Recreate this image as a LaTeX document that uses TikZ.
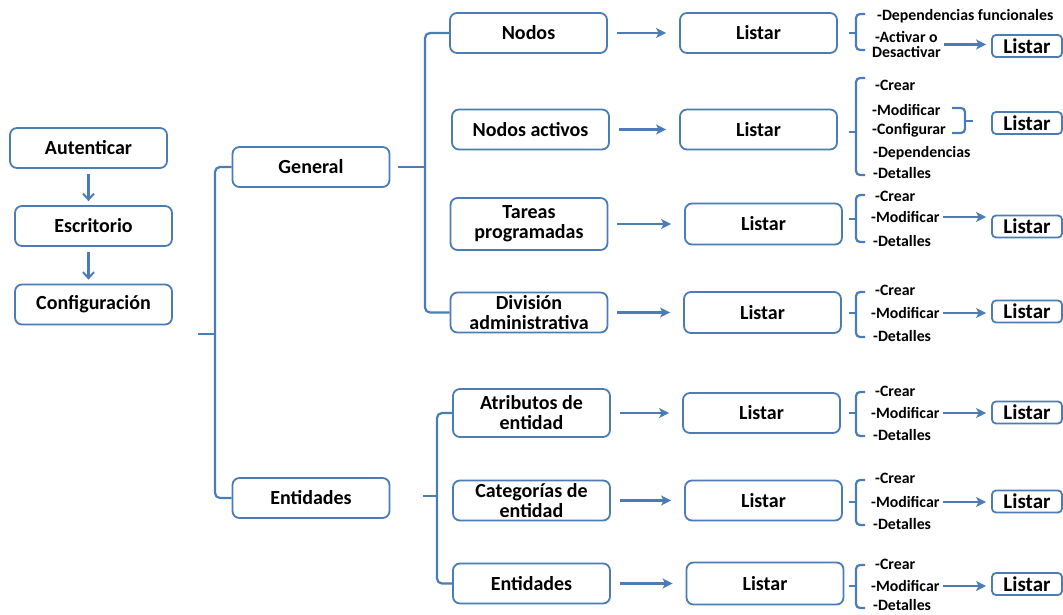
\documentclass[tikz,border=0pt]{standalone}
\usepackage{fontspec}
\setmainfont{Carlito}
\usetikzlibrary{arrows.meta}
\definecolor{linec}{RGB}{76,124,182}

\tikzset{
  box/.style={draw=linec, line width=1.8pt, rounded corners=7pt,
    minimum width=157pt, minimum height=40pt, inner sep=0pt, align=center,
    font=\bfseries\fontsize{20}{20}\selectfont},
  minibox/.style={draw=linec, line width=1.8pt, rounded corners=4pt,
    minimum width=70pt, minimum height=22pt, inner sep=0pt,
    font=\bfseries\fontsize{21}{21}\selectfont},
  item/.style={anchor=west, inner sep=0pt, font=\bfseries\fontsize{15.8}{15}\selectfont},
  flow/.style={draw=linec, line width=2.2pt, shorten <=9pt, shorten >=13pt,
    -{Stealth[length=10pt,width=10pt,inset=2.5pt]}},
  downflow/.style={draw=linec, line width=2.2pt, shorten <=5pt, shorten >=4pt,
    -{Straight Barb[length=6pt,width=11pt,line width=2pt]}},
  smallflow/.style={draw=linec, line width=2.2pt, shorten <=3pt, shorten >=5pt,
    -{Stealth[length=10pt,width=10pt,inset=2.5pt]}},
  brk/.style={draw=linec, line width=2.2pt, rounded corners=5pt},
}

% left-hand curly bracket in front of a list of actions: top, bottom, middle
\newcommand{\actionbrace}[3]{%
  \draw[brk, rounded corners=4pt] (865,#1) -- (856,#1) -- (856,#2) -- (865,#2);
  \draw[brk] (849,#3) -- (856,#3);}

\begin{document}
\begin{tikzpicture}[x=1pt, y=-1pt]
\fill[white] (0,0) rectangle (1063,615);
\useasboundingbox (0,0) rectangle (1063,615);

% main path
\node[box] (aut)  at (88.5,148)  {Autenticar};
\node[box] (esc)  at (93.5,226)  {Escritorio};
\node[box] (conf) at (93.5,304.5) {Configuración};
\draw[downflow] (aut.south) -- (aut.south |- esc.north);
\draw[downflow] (aut.south |- esc.south) -- (aut.south |- conf.north);

% first level
\node[box] (gen) at (311,167) {General};
\node[box] (ent) at (311,498) {Entidades};
\coordinate (bigstem) at (215,334);
\coordinate (bignub)  at (198,334);
\draw[brk] (gen.west) -| (bigstem) |- (ent.west);
\draw[brk] (bignub) -- (bigstem);

% General branch
\node[box] (nod)  at (528.5,33)  {Nodos};
\node[box] (nact) at (530.5,129.5) {Nodos activos};
\node[box, minimum height=52pt] (tar) at (529,224) {Tareas\\programadas};
\node[box] (div)  at (529,312.5) {División\\administrativa};
\coordinate (genstem) at (425,167);
\coordinate (gennub)  at (398,167);
\draw[brk] (nod.west) -| (genstem) |- (div.west);
\draw[brk] (gennub) -- (genstem);

\node[box] (l1) at (758.5,33)    {Listar};
\node[box] (l2) at (758.5,129.5) {Listar};
\node[box, minimum height=41pt] (l3) at (763.5,224) {Listar};
\node[box, minimum height=41pt] (l4) at (762.5,312.5) {Listar};
\draw[flow] (nod)  -- (l1);
\draw[flow] (nact) -- (l2);
\draw[flow] (tar)  -- (l3);
\draw[flow] (div)  -- (l4);

% Entidades branch
\node[box, minimum height=48pt] (atr) at (531.5,413) {Atributos de\\entidad};
\node[box] (cat)  at (531.5,500.5) {Categorías de\\entidad};
\node[box] (ent2) at (531.5,583.5) {Entidades};
\coordinate (entstem) at (437,496);
\coordinate (entnub)  at (423,496);
\draw[brk] (atr.west) -| (entstem) |- (ent2.west);
\draw[brk] (entnub) -- (entstem);

\node[box] (l5) at (761.5,413)   {Listar};
\node[box] (l6) at (763.5,500.5) {Listar};
\node[box, minimum height=42pt] (l7) at (765,583.5) {Listar};
\draw[flow] (atr)  -- (l5);
\draw[flow] (cat)  -- (l6);
\draw[flow] (ent2) -- (l7);

% actions for Nodos
\actionbrace{14}{50}{33}
\node[item] (a1) at (877,16) {-Dependencias funcionales};
\node[item, align=center] (a2) at (872,44.5) {-Activar o\\[0pt]Desactivar};
\node[minibox] (m1) at (1027,46) {Listar};
\draw[smallflow] (a2.east) -- (a2.east -| m1.west);

% actions for Nodos activos
\actionbrace{78}{175}{132}
\node[item] (b1) at (875,85)  {-Crear};
\node[item] (b2) at (872,110) {-Modificar};
\node[item] (b3) at (872,130) {-Configurar};
\node[item] (b4) at (873,153) {-Dependencias};
\node[item] (b5) at (873,173) {-Detalles};
\draw[brk, rounded corners=4pt] (952,108) -- (965,108) -- (965,133) -- (952,133);
\coordinate (bstem) at (965,121);
\node[minibox] (m2) at (1027,123) {Listar};
\draw[brk] (bstem) -- (bstem -| 973,0);

% actions for Tareas programadas
\actionbrace{195}{242}{219}
\node[item] (c1) at (875,196) {-Crear};
\node[item] (c2) at (871,217) {-Modificar};
\node[item] (c3) at (873,241) {-Detalles};
\node[minibox] (m3) at (1027,226.5) {Listar};
\draw[smallflow] (c2.east) -- (c2.east -| m3.west);

% actions for División administrativa
\actionbrace{292}{337}{313}
\node[item] (d1) at (875,290) {-Crear};
\node[item] (d2) at (871,313) {-Modificar};
\node[item] (d3) at (873,336) {-Detalles};
\node[minibox] (m4) at (1027,311.5) {Listar};
\draw[smallflow] (d2.east) -- (d2.east -| m4.west);

% actions for Atributos de entidad
\actionbrace{392}{436}{413}
\node[item] (e1) at (875,391) {-Crear};
\node[item] (e2) at (871,413) {-Modificar};
\node[item] (e3) at (873,435) {-Detalles};
\node[minibox] (m5) at (1027,412.5) {Listar};
\draw[smallflow] (e2.east) -- (e2.east -| m5.west);

% actions for Categorías de entidad
\actionbrace{480}{525}{502}
\node[item] (f1) at (875,478) {-Crear};
\node[item] (f2) at (871,502) {-Modificar};
\node[item] (f3) at (873,524) {-Detalles};
\node[minibox] (m6) at (1027,501.5) {Listar};
\draw[smallflow] (f2.east) -- (f2.east -| m6.west);

% actions for Entidades
\actionbrace{565}{608}{586}
\node[item] (h1) at (875,564) {-Crear};
\node[item] (h2) at (871,586) {-Modificar};
\node[item] (h3) at (873,605.5) {-Detalles};
\node[minibox] (m7) at (1027,584) {Listar};
\draw[smallflow] (h2.east) -- (h2.east -| m7.west);
\end{tikzpicture}
\end{document}
